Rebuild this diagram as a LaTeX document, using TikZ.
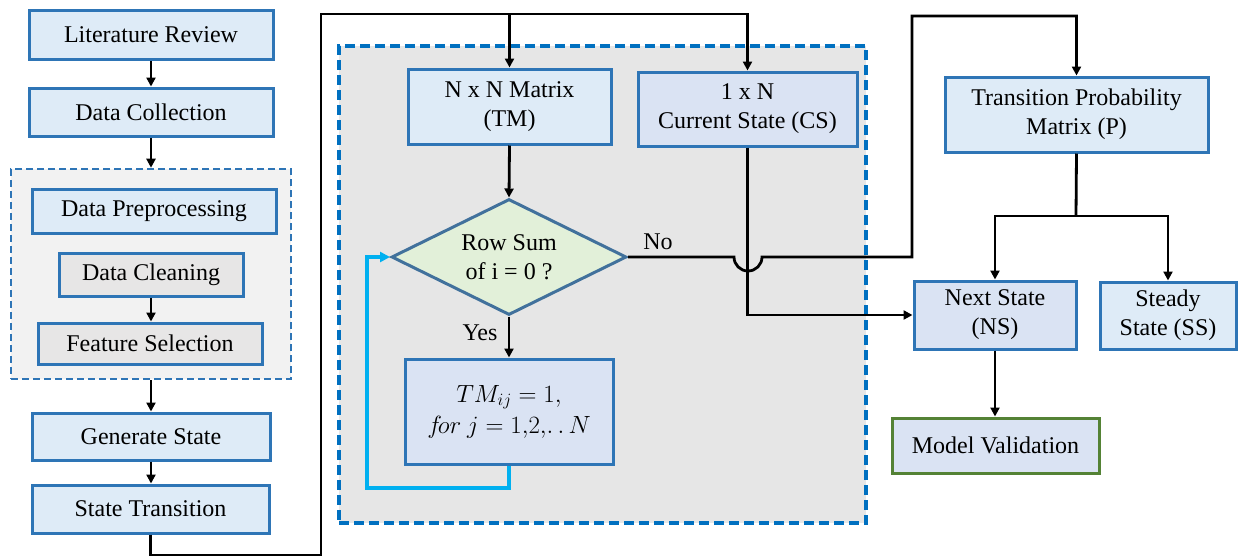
\documentclass[tikz,border=0pt]{standalone}
\usepackage{fontspec}
\setmainfont{Liberation Serif}
\usetikzlibrary{arrows.meta,shapes.geometric}
\definecolor{boxfill}{HTML}{DEEBF7}
\definecolor{boxfillb}{HTML}{DAE3F3}
\definecolor{boxline}{HTML}{2E75B6}
\definecolor{grayfill}{HTML}{E7E6E6}
\definecolor{groupfill}{HTML}{F2F2F2}
\definecolor{bigfill}{HTML}{E6E6E6}
\definecolor{dashblue}{HTML}{0070C0}
\definecolor{diafill}{HTML}{E2F0D9}
\definecolor{dialine}{HTML}{41719C}
\definecolor{loopcyan}{HTML}{00B0F0}
\definecolor{mvgreen}{HTML}{548235}
\begin{document}
\begin{tikzpicture}[x=1pt,y=1pt,
  txt/.style={font=\fontsize{24}{29}\selectfont},
  box/.style={txt, draw=boxline, line width=3pt, fill=boxfill, align=center, inner sep=0pt},
  boxb/.style={box, fill=boxfillb},
  graybox/.style={box, fill=grayfill},
  groupbox/.style={draw=boxline, fill=groupfill, line width=2.6pt, dash pattern=on 7pt off 4pt, inner sep=0pt},
  bigbox/.style={draw=dashblue, fill=bigfill, line width=3.4pt, dash pattern=on 10pt off 5pt, inner sep=0pt},
  decision/.style={txt, shape=diamond, shape aspect=2, draw=dialine, line width=3pt, fill=diafill, align=center, inner sep=0pt},
  arr/.style={line width=2.8pt, -{Triangle[length=9pt,width=9pt]}},
  plain/.style={line width=2.8pt},
  looparr/.style={draw=loopcyan, line width=3.4pt, -{Triangle[length=10pt,width=10pt]}},
  lbl/.style={txt, inner sep=0pt}
]
\useasboundingbox (0,0) rectangle (1239,-558);

% background containers
\node[groupbox, minimum width=280, minimum height=210] (grp) at (151,-274) {};
\node[bigbox, minimum width=527, minimum height=477] (big) at (602.5,-284.5) {};

% left column
\node[box, minimum width=244, minimum height=49] (lr) at (151,-35) {Literature Review};
\node[box, minimum width=244, minimum height=48] (dc) at (151,-112) {Data Collection};
\node[box, minimum width=244, minimum height=44] (dp) at (154,-211) {Data Preprocessing};
\node[graybox, minimum width=184, minimum height=43] (dcl) at (151,-274.5) {Data Cleaning};
\node[graybox, minimum width=224, minimum height=41] (fs) at (150,-343.5) {Feature Selection};
\node[box, minimum width=238, minimum height=47] (gs) at (151,-436.5) {Generate State};
\node[box, minimum width=237, minimum height=48] (st) at (150.5,-509) {State Transition};

% middle
\node[box, minimum width=203, minimum height=75] (tm) at (509.5,-106.5) {N x N Matrix\\(TM)};
\node[boxb, minimum width=219, minimum height=74] (cs) at (747.5,-109) {1 x N\\Current State (CS)};
\node[decision, minimum width=235, minimum height=116] (dia) at (509,-257) {Row Sum\\of i = 0 ?};
\node[boxb, minimum width=208, minimum height=105] (fb) at (509,-411.5) {$TM_{ij} = 1,$\\[2pt]$f\!or\ j = 1{,}2{,}\ldotp\ldotp N$};

% right
\node[box, minimum width=263, minimum height=75] (tpm) at (1076.5,-114.5) {Transition Probability\\Matrix (P)};
\node[boxb, minimum width=162, minimum height=68] (ns) at (995,-315) {Next State\\(NS)};
\node[box, minimum width=136, minimum height=67] (ss) at (1168,-315.5) {Steady\\State (SS)};
\node[boxb, draw=mvgreen, minimum width=207, minimum height=55] (mv) at (995.5,-445.5) {Model Validation};

% labels
\node[lbl] (nolbl) at (658,-242) {No};
\node[lbl] (yeslbl) at (480,-333) {Yes};

% helper coordinates
\coordinate (c1) at (321,-555);
\coordinate (c2) at (321,-14);
\coordinate (c3) at (912,-16);
\coordinate (split) at (1076,-216);
\coordinate (cl) at (367,-488);

% left column connectors
\draw[arr] (lr.south) -- (dc.north);
\draw[arr] (dc.south) -- (grp.north);
\draw[arr] (dcl.south) -- (dcl.south |- fs.north);
\draw[arr] (grp.south) -- (grp.south |- gs.north);
\draw[arr] (gs.south) -- (gs.south |- st.north);

% long connector to middle block
\draw[arr] (st.south) |- (c1) -- (c2) -| (cs.north);
\draw[arr] (tm.north |- c2) -- (tm.north);

% middle block connectors
\draw[arr] (tm.south) -- (dia.north);
\draw[arr] (dia.south) -- (fb.north);
\draw[looparr] (fb.south) |- (cl) |- (dia.west);

% current state to next state
\draw[arr] (cs.south) |- (ns.west);

% No branch with jump over CS line
\draw[arr] (dia.east) -- (734,-257) arc[start angle=180, end angle=360, radius=14pt] -- (c3 |- dia.east) -- (c3) -| (tpm.north);

% TPM split
\draw[plain] (tpm.south) -- (split);
\draw[arr] (split) -| (ns.north);
\draw[arr] (split) -| (ss.north);

% NS to model validation
\draw[arr] (ns.south) -- (ns.south |- mv.north);
\end{tikzpicture}
\end{document}
